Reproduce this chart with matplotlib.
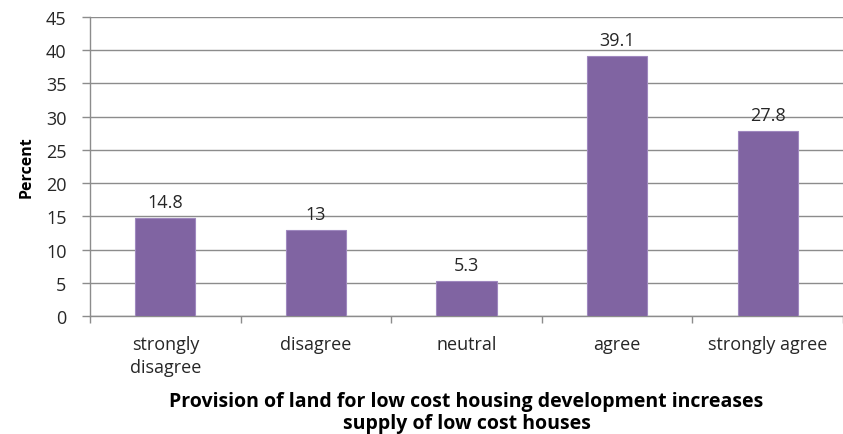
import matplotlib
matplotlib.use("Agg")
import matplotlib.pyplot as plt
import numpy as np

categories = ["strongly\ndisagree", "disagree", "neutral", "agree", "strongly agree"]
percent = [14.8, 13, 5.3, 39.1, 27.8]
value_labels = ["14.8", "13", "5.3", "39.1", "27.8"]
y_ticks = list(range(0, 50, 5))

BAR = "#8064A2"
GRID = "#8c8c8c"
TEXT = "#262626"

plt.rcParams["font.family"] = ["Open Sans", "DejaVu Sans"]

fig = plt.figure(figsize=(8.43, 4.35), dpi=100)
ax = fig.add_axes([0.1068, 0.2713, 0.8932, 0.6873])

x = np.arange(len(categories))
ax.bar(x, percent, width=0.4, color=BAR, edgecolor="#9f88bf", linewidth=0.8, zorder=3)

for xi, v, lab in zip(x, percent, value_labels):
    ax.annotate(lab, (xi, v), xytext=(0, 5), textcoords="offset points",
                ha="center", va="bottom", fontsize=13, color=TEXT)

ax.set_xlim(-0.5, len(categories) - 0.5)
ax.set_ylim(0, 45)
ax.set_yticks(y_ticks)
ax.tick_params(axis="y", labelsize=13, colors=GRID, labelcolor=TEXT,
               length=6, width=1, direction="out", pad=11)
ax.yaxis.grid(True, color=GRID, linewidth=1, zorder=0)

# category labels sit between boundary ticks
ax.set_xticks(np.arange(-0.5, len(categories), 1.0))
ax.set_xticklabels([])
ax.set_xticks(x, minor=True)
ax.set_xticklabels(categories, minor=True, fontsize=13, color=TEXT, linespacing=1.3)
ax.tick_params(axis="x", which="major", length=5, width=1, colors=GRID)
ax.tick_params(axis="x", which="minor", length=0, pad=14)

for side in ["top", "right"]:
    ax.spines[side].set_visible(False)
for side in ["left", "bottom"]:
    ax.spines[side].set_color(GRID)
    ax.spines[side].set_linewidth(1)

ax.set_ylabel("Percent", fontsize=11.5, fontweight="bold", color="black", labelpad=8)
ax.set_xlabel("Provision of land for low cost housing development increases\nsupply of low cost houses",
              fontsize=14, fontweight="bold", color="black", labelpad=11, linespacing=1.15)

fig.savefig("out.png", dpi=100)
